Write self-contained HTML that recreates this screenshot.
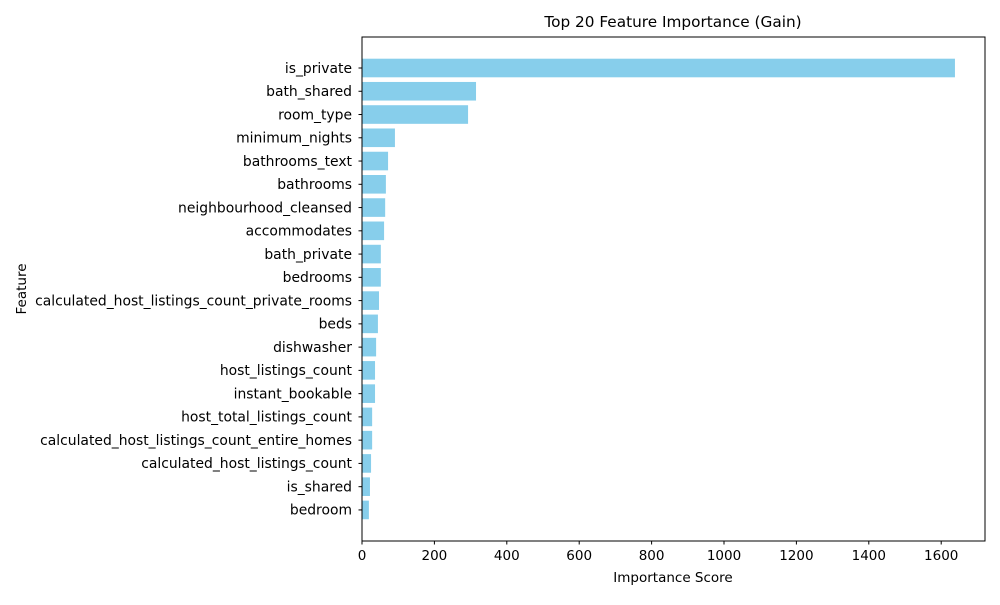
<!DOCTYPE html>
<html><head><meta charset="utf-8"><style>
body{margin:0;background:#fff;font-family:"Liberation Sans","DejaVu Sans",sans-serif}
</style></head><body>
<svg width="1000" height="600" xmlns="http://www.w3.org/2000/svg" font-family="DejaVu Sans, Liberation Sans, sans-serif">
<text x="673" y="27" font-size="15.3" text-anchor="middle">Top 20 Feature Importance (Gain)</text>
<g id="bars"></g>
<g id="yt"></g>
<g id="xt"></g>
<rect x="362" y="37" width="623" height="504" fill="none" stroke="#000" stroke-width="1"/>
<text x="673" y="582" font-size="13.5" text-anchor="middle">Importance Score</text>
<text x="26" y="289" font-size="13.5" text-anchor="middle" transform="rotate(-90 26 289)">Feature</text>
</svg>
<script>
const features=["is_private","bath_shared","room_type","minimum_nights","bathrooms_text","bathrooms","neighbourhood_cleansed","accommodates","bath_private","bedrooms","calculated_host_listings_count_private_rooms","beds","dishwasher","host_listings_count","instant_bookable","host_total_listings_count","calculated_host_listings_count_entire_homes","calculated_host_listings_count","is_shared","bedroom"];
const values=[1638,315,293,91,72,66,64,61,52,52,47,44,39,36,36,28,28,25,22,19];
const xTicks=[0,200,400,600,800,1000,1200,1400,1600];
const NS="http://www.w3.org/2000/svg";
const x=v=>362+v*0.362;
const yc=i=>68+i*23.26;
const bh=18.6;
function mk(t,a,p){const e=document.createElementNS(NS,t);for(const k in a)e.setAttribute(k,a[k]);p.appendChild(e);return e;}
const bg=document.getElementById('bars'),yt=document.getElementById('yt'),xt=document.getElementById('xt');
features.forEach((f,i)=>{
 const r=mk('rect',{x:x(0),y:yc(i)-bh/2,width:x(values[i])-x(0),height:bh,fill:'#87ceeb'},bg);
 
 
 mk('line',{x1:358.5,x2:362,y1:yc(i),y2:yc(i),stroke:'#000'},yt);
 const t=mk('text',{x:352,y:yc(i)+4.8,'font-size':13.9,'text-anchor':'end'},yt);
 t.textContent=f;
 
 
});
xTicks.forEach(v=>{
 mk('line',{x1:x(v),x2:x(v),y1:541,y2:544.5,stroke:'#000'},xt);
 const t=mk('text',{x:x(v),y:560,'font-size':13.5,'text-anchor':'middle'},xt);
 t.textContent=v;
 
 
});
</script>
</body></html>
